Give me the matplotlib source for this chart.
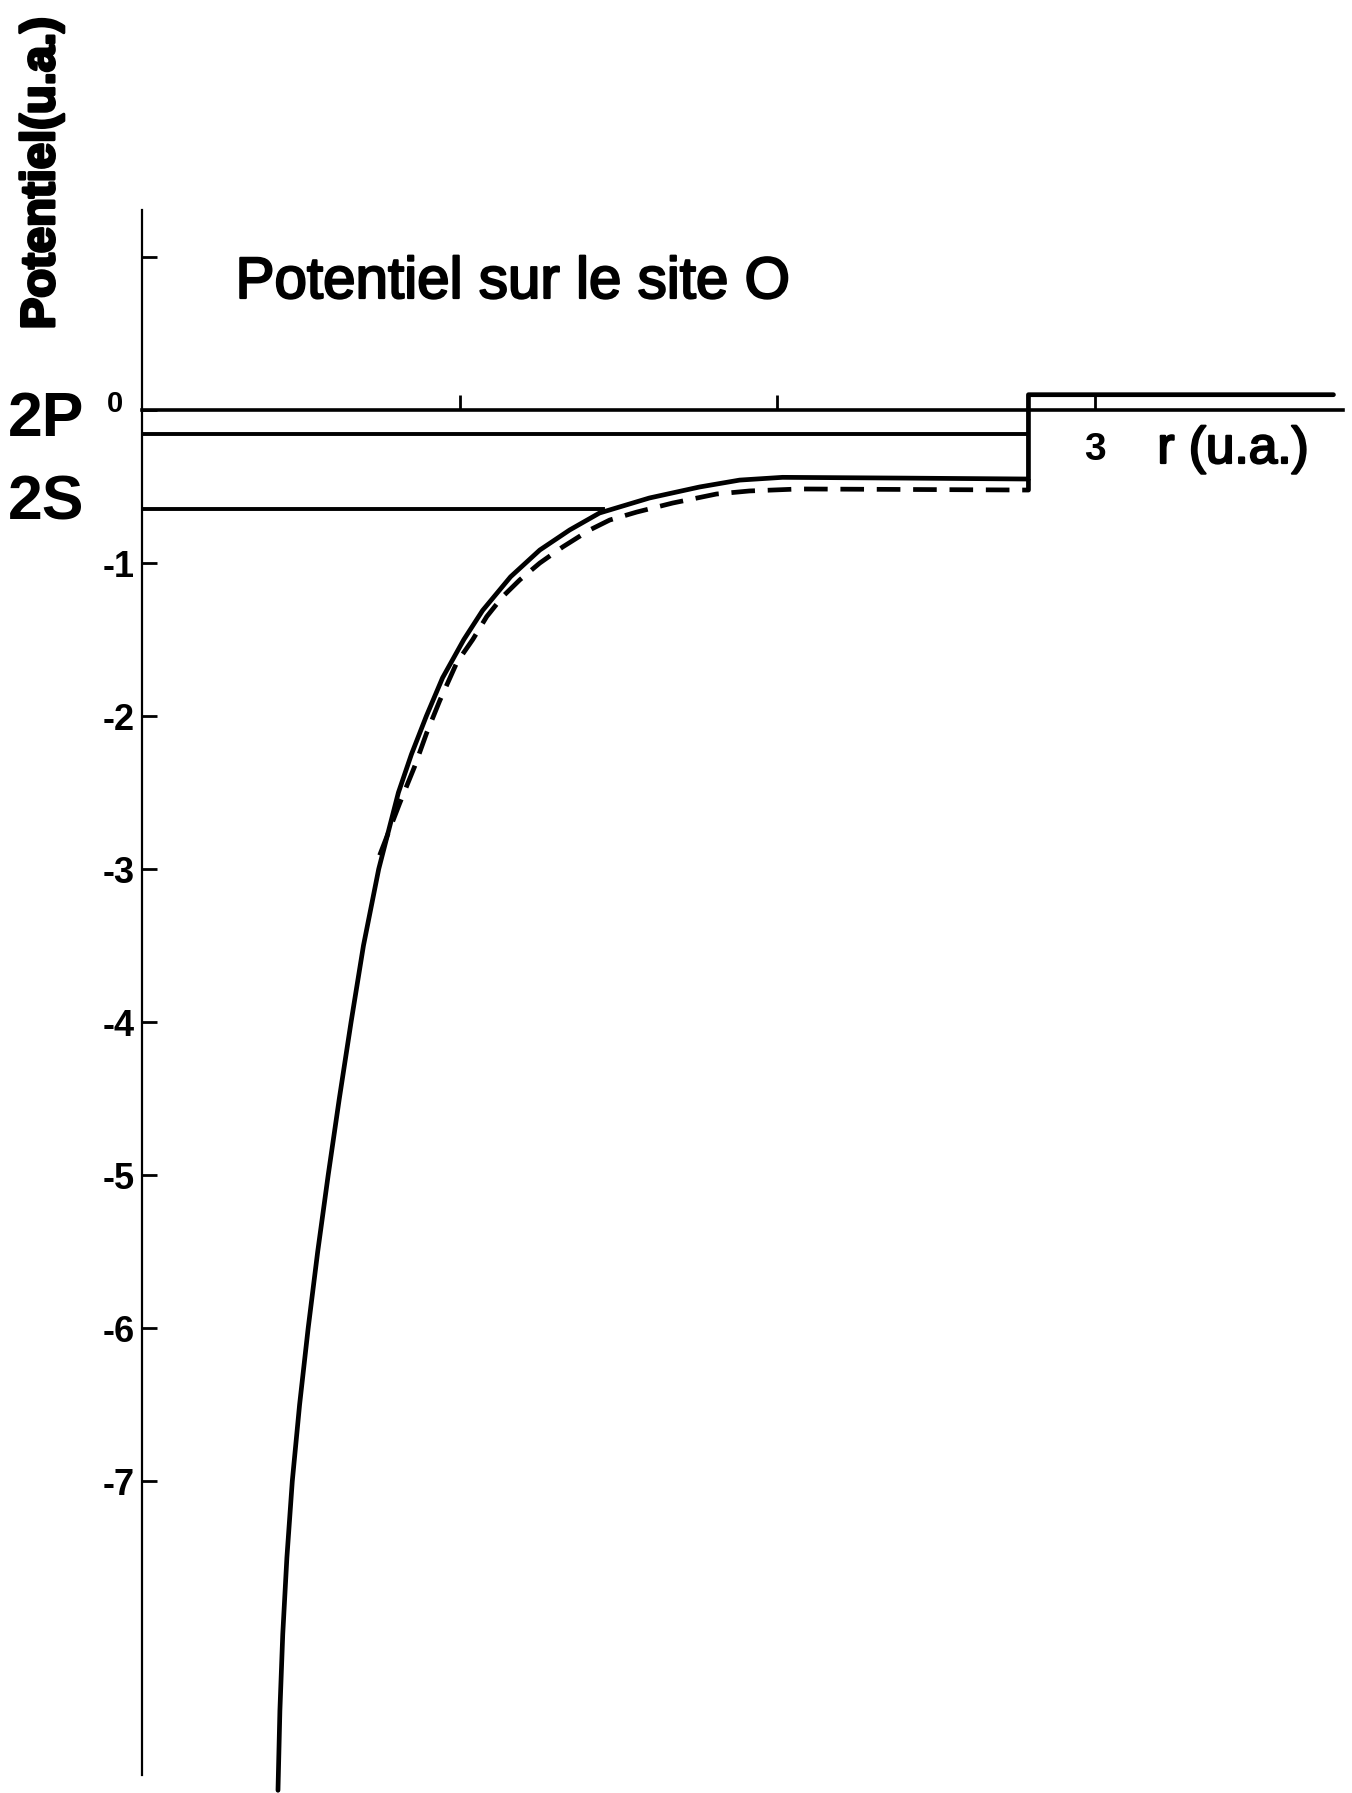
import matplotlib
matplotlib.use("Agg")
import matplotlib.pyplot as plt
import matplotlib.patheffects as pe
from matplotlib.transforms import ScaledTranslation

plt.rcParams['font.family'] = ['Liberation Sans', 'DejaVu Sans']

# ---- data (r in u.a., potential in u.a.) ----
solid_r = [0.428, 0.434, 0.443, 0.456, 0.473, 0.496, 0.523, 0.553, 0.586, 0.621,
           0.658, 0.697, 0.745, 0.807, 0.848, 0.895, 0.946, 1.013, 1.072, 1.160,
           1.252, 1.346, 1.440, 1.597, 1.755, 1.881, 2.016, 2.400, 2.790]
solid_v = [-9.02, -8.50, -8.00, -7.50, -7.00, -6.50, -6.00, -5.50, -5.00, -4.50,
           -4.00, -3.50, -3.00, -2.50, -2.25, -2.00, -1.75, -1.50, -1.31, -1.09,
           -0.915, -0.784, -0.673, -0.575, -0.503, -0.458, -0.440, -0.445, -0.451]

dashed_r = [0.748, 0.811, 0.858, 0.896, 0.937, 0.991, 1.041, 1.085, 1.135, 1.189,
            1.252, 1.324, 1.409, 1.472, 1.557, 1.670, 1.808, 1.912, 2.069, 2.790]
dashed_v = [-2.91, -2.57, -2.33, -2.11, -1.90, -1.65, -1.50, -1.35, -1.22, -1.11,
            -1.00, -0.895, -0.784, -0.719, -0.667, -0.608, -0.549, -0.529, -0.516, -0.523]

r_sphere = 2.79          # muffin-tin radius (step)
v_outer = 0.10           # constant potential outside the sphere
r_end = 3.75
level_2P = -0.16
level_2S = -0.65
r_2S_end = 1.45

x_ticks = [1, 2, 3]
x_ticklabels = ['', '', '3']
y_ticks = [-7, -6, -5, -4, -3, -2, -1, 0, 1]
y_ticklabels = ['-7', '-6', '-5', '-4', '-3', '-2', '-1', '0', '']

# ---- figure ----
W, H = 1352, 1793
fig = plt.figure(figsize=(W / 100, H / 100), dpi=100)
ax = fig.add_axes([142 / W, 1 - 1775 / H, (1343 - 142) / W, (1775 - 210) / H])
ax.set_xlim(0, 3.78)
ax.set_ylim(-8.92, 1.307)

for s in ['top', 'right']:
    ax.spines[s].set_visible(False)
ax.spines['left'].set_linewidth(1.6)
ax.spines['bottom'].set_position(('data', 0))
ax.spines['bottom'].set_linewidth(2.6)

ax.set_xticks(x_ticks)
ax.set_xticklabels(x_ticklabels)
ax.tick_params(axis='x', direction='in', length=11, width=2, pad=16)
ax.set_yticks(y_ticks)
ax.set_yticklabels(y_ticklabels)
ax.tick_params(axis='y', direction='in', length=11, width=2, pad=5)
for lab in ax.get_xticklabels():
    lab.set_fontsize(28)
    lab.set_fontweight('bold')
for lab in ax.get_yticklabels():
    lab.set_fontsize(26)
    lab.set_fontweight('bold')
zero_lab = ax.get_yticklabels()[7]
zero_lab.set_fontsize(21)
zero_lab.set_transform(zero_lab.get_transform() +
                       ScaledTranslation(-0.12, 0.09, fig.dpi_scale_trans))

lw_curve = 3.4
# solid potential curve with the step outside the sphere
ax.plot(solid_r + [r_sphere, r_end], solid_v + [v_outer, v_outer],
        color='black', lw=lw_curve, clip_on=False, solid_joinstyle='round',
        solid_capstyle='round')
# dashed curve
ax.plot(dashed_r + [r_sphere], dashed_v + [solid_v[-1]], color='black', lw=lw_curve,
        linestyle=(0, (5, 2.7)), clip_on=False)
# level lines
ax.plot([0, r_sphere], [level_2P, level_2P], color='black', lw=2.8)
ax.plot([0, r_2S_end], [level_2S, level_2S], color='black', lw=2.8)

# ---- texts ----
thick = [pe.withStroke(linewidth=1.6, foreground='black')]
fig.text(513 / W, 1 - 298 / H, 'Potentiel sur le site O', ha='center', va='baseline',
         fontsize=42, path_effects=thick)
fig.text(42 / W, 1 - 173 / H, 'Potentiel(u.a.)', ha='center', va='center',
         rotation=90, fontsize=34, fontweight='bold',
         path_effects=[pe.withStroke(linewidth=2.2, foreground='black')])
fig.text(8 / W, 1 - 436 / H, '2P', ha='left', va='baseline', fontsize=45, fontweight='bold')
fig.text(8 / W, 1 - 520 / H, '2S', ha='left', va='baseline', fontsize=45, fontweight='bold')
fig.text(1233 / W, 1 - 463 / H, 'r (u.a.)', ha='center', va='baseline', fontsize=37,
         path_effects=thick)

fig.savefig('out.png', dpi=100, facecolor='white')
